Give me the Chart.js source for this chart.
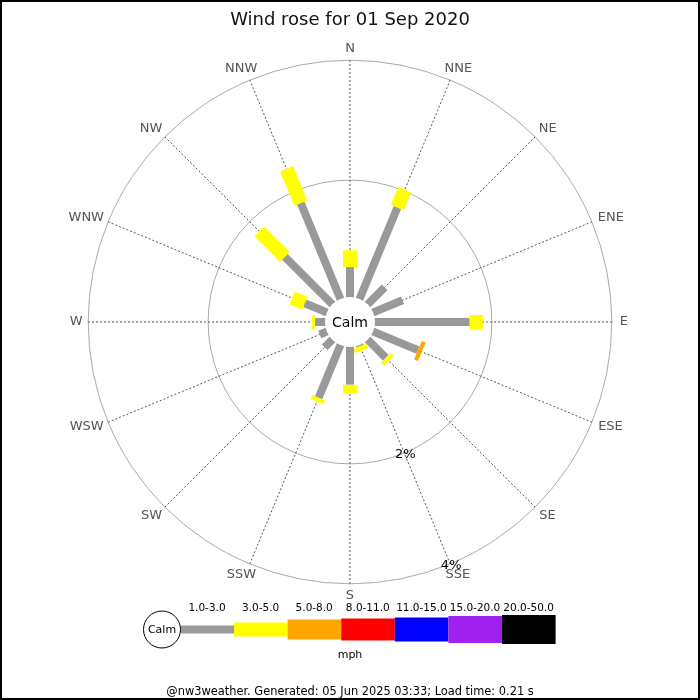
<!DOCTYPE html>
<html>
<head>
<meta charset="utf-8">
<title>Wind rose</title>
<script src="https://cdn.jsdelivr.net/npm/chart.js@4.4.0/dist/chart.umd.min.js"></script>
<style>
  html, body { margin: 0; padding: 0; background: #fff; }
  #wrap { width: 700px; height: 700px; position: relative; }
</style>
</head>
<body>
<div id="wrap"><canvas id="rose"></canvas></div>
<script>
const directions = ['N', 'NNE', 'NE', 'ENE', 'E', 'ESE', 'SE', 'SSE', 'S', 'SSW', 'SW', 'WSW', 'W', 'WNW', 'NW', 'NNW'];
const speedBins = ['1.0-3.0', '3.0-5.0', '5.0-8.0', '8.0-11.0', '11.0-15.0', '15.0-20.0', '20.0-50.0'];
const binColours = ['#999999', '#ffff00', '#ffa500', '#ff0000', '#0000ff', '#a020f0', '#000000'];

// % of the day from each direction, one array per speed bin (mph)
const pct1to3   = [0.55, 1.70, 0.45, 0.58, 1.63, 0.86, 0.48, 0.07, 0.68, 1.00, 0.23, 0.18, 0.22, 0.45, 1.17, 1.78];
const pct3to5   = [0.28, 0.32, 0, 0, 0.22, 0, 0.07, 0.08, 0.14, 0.07, 0, 0, 0.05, 0.23, 0.60, 0.62];
const pct5to8   = [0, 0, 0, 0, 0, 0.07, 0, 0, 0, 0, 0, 0, 0, 0, 0, 0];
const pct8to11  = [0, 0, 0, 0, 0, 0, 0, 0, 0, 0, 0, 0, 0, 0, 0, 0];
const pct11to15 = [0, 0, 0, 0, 0, 0, 0, 0, 0, 0, 0, 0, 0, 0, 0, 0];
const pct15to20 = [0, 0, 0, 0, 0, 0, 0, 0, 0, 0, 0, 0, 0, 0, 0, 0];
const pct20to50 = [0, 0, 0, 0, 0, 0, 0, 0, 0, 0, 0, 0, 0, 0, 0, 0];

const ringTicks = [2, 4];
const ringLabels = ['2%', '4%'];

const titleText = 'Wind rose for 01 Sep 2020';
const footerText = '@nw3weather. Generated: 05 Jun 2025 03:33; Load time: 0.21 s';

const binData = [pct1to3, pct3to5, pct5to8, pct8to11, pct11to15, pct15to20, pct20to50];
const barWidths = [8, 14, 20, 22, 24, 27, 29];

Chart.defaults.font.family = "'DejaVu Sans', sans-serif";

// radial bars, calm disc, compass labels and ring labels drawn from the r scale
const roseBars = {
  id: 'roseBars',
  afterDatasetsDraw(chart) {
    const r = chart.scales.r;
    const ctx = chart.ctx;
    ctx.save();
    ctx.lineCap = 'butt';
    directions.forEach((d, i) => {
      let base = 0;
      chart.data.datasets.forEach((ds, b) => {
        const v = ds.data[i];
        if (!v) return;
        const p0 = r.getPointPositionForValue(i, base);
        const p1 = r.getPointPositionForValue(i, base + v);
        ctx.strokeStyle = binColours[b];
        ctx.lineWidth = barWidths[b];
        ctx.beginPath();
        ctx.moveTo(p0.x, p0.y);
        ctx.lineTo(p1.x, p1.y);
        ctx.stroke();
        base += v;
      });
    });

    // calm disc in the middle
    ctx.fillStyle = '#fff';
    ctx.beginPath();
    ctx.arc(r.xCenter, r.yCenter, 25, 0, Math.PI * 2);
    ctx.fill();
    ctx.fillStyle = '#000';
    ctx.font = "14px 'DejaVu Sans'";
    ctx.textAlign = 'center';
    ctx.textBaseline = 'middle';
    ctx.fillText('Calm', r.xCenter, r.yCenter + 1);

    // compass labels just outside the outer ring
    ctx.fillStyle = '#555555';
    ctx.font = "13px 'DejaVu Sans'";
    directions.forEach((d, i) => {
      const a = r.getIndexAngle(i);
      const p = r.getPointPosition(i, r.drawingArea + 12);
      const w = ctx.measureText(d).width;
      const shift = Math.abs(Math.cos(a)) > 0.01 ? Math.sin(a) * w * 0.33 : 0;
      ctx.fillText(d, p.x + shift, p.y);
    });

    // ring labels along the SSE spoke
    ctx.fillStyle = '#000';
    ringTicks.forEach((t, k) => {
      const p = r.getPointPositionForValue(7, t);
      ctx.fillText(ringLabels[k], p.x + 1, p.y + 2);
    });
    ctx.restore();
  },
  afterDraw(chart) {
    const ctx = chart.ctx;
    ctx.save();
    // speed key
    const cy = 629.5;
    ctx.strokeStyle = '#000';
    ctx.lineWidth = 1;
    ctx.fillStyle = '#fff';
    ctx.beginPath();
    ctx.arc(162, cy, 18.5, 0, Math.PI * 2);
    ctx.fill();
    ctx.stroke();
    ctx.fillStyle = '#000';
    ctx.font = "11px 'DejaVu Sans'";
    ctx.textAlign = 'center';
    ctx.textBaseline = 'middle';
    ctx.fillText('Calm', 162, cy + 1);

    const x0 = 181, w = 53.6;
    speedBins.forEach((lab, b) => {
      const x = b === 0 ? x0 : 234 + (b - 1) * w;
      const bw = b === 0 ? 234 - x0 : w;
      const h = barWidths[b];
      ctx.fillStyle = binColours[b];
      ctx.fillRect(x, cy - h / 2, bw, h);
      ctx.fillStyle = '#000';
      ctx.font = "10.5px 'DejaVu Sans'";
      ctx.fillText(lab, 207 + b * 53.6, 608);
    });
    ctx.font = "11px 'DejaVu Sans'";
    ctx.fillText('mph', 350, 655);

    ctx.font = "11.4px 'DejaVu Sans'";
    ctx.fillText(footerText, 350, 692);

    // frame
    ctx.lineWidth = 2;
    ctx.strokeRect(1, 1, 698, 698);
    ctx.restore();
  }
};

new Chart(document.getElementById('rose'), {
  type: 'radar',
  data: {
    labels: directions,
    datasets: binData.map((arr, b) => ({
      label: speedBins[b],
      data: arr,
      showLine: false,
      fill: false,
      pointRadius: 0,
      pointHitRadius: 0,
      borderColor: binColours[b],
      backgroundColor: binColours[b]
    }))
  },
  options: {
    responsive: true,
    maintainAspectRatio: false,
    animation: false,
    layout: { padding: { top: 2, bottom: 95, left: 0, right: 0 } },
    plugins: {
      legend: { display: false },
      tooltip: { enabled: false },
      title: {
        display: true,
        text: titleText,
        color: '#111',
        font: { size: 18, weight: 'normal' },
        padding: { top: 8, bottom: 8 }
      }
    },
    scales: {
      r: {
        min: -0.3667,
        max: 4,
        startAngle: 0,
        afterBuildTicks: scale => { scale.ticks = ringTicks.map(v => ({ value: v })); },
        ticks: { display: false },
        grid: { circular: true, color: '#aaaaaa', lineWidth: 1 },
        angleLines: { color: '#555555', lineWidth: 1, borderDash: [2, 2] },
        // kept for layout only; the visible labels are drawn by roseBars
        pointLabels: { color: 'rgba(0,0,0,0)', font: { size: 13 }, padding: 5 }
      }
    }
  },
  plugins: [roseBars]
});
</script>
</body>
</html>
